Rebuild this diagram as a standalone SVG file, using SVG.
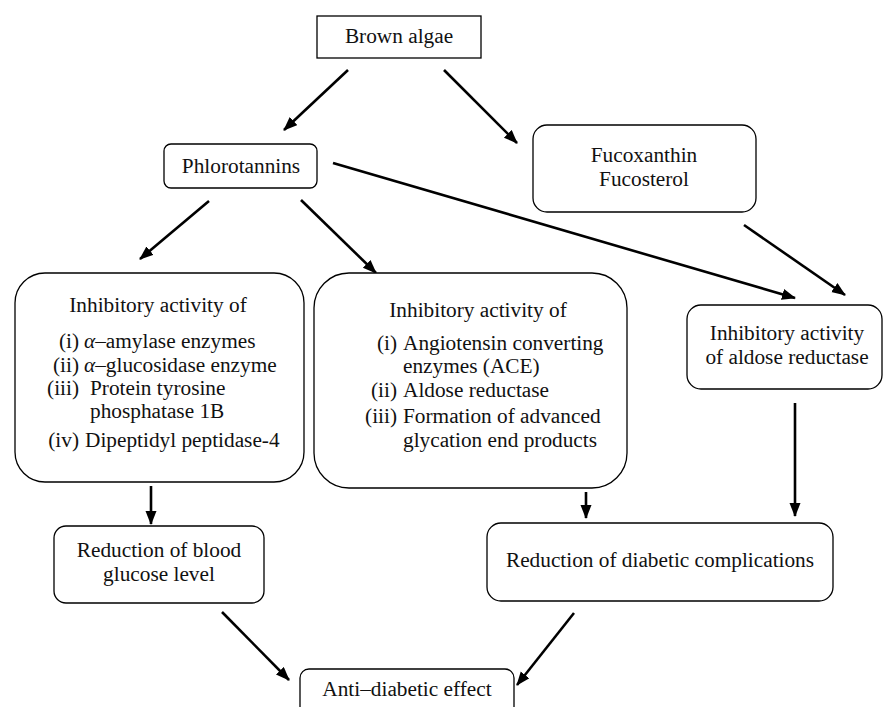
<svg xmlns="http://www.w3.org/2000/svg" width="884" height="707" viewBox="0 0 884 707">
<style>
.box{fill:#fff;stroke:#000;stroke-width:1.3}
.t{font-family:"Liberation Serif","Times New Roman",serif;font-size:21.3px;fill:#111}
.c{text-anchor:middle}
.e{text-anchor:end}
.a{stroke:#000;stroke-width:2.6;fill:none;marker-end:url(#ah)}
</style>
<defs>
<marker id="ah" markerUnits="userSpaceOnUse" markerWidth="14" markerHeight="12" refX="13" refY="5.5" orient="auto">
<path d="M0,0 L14,5.5 L0,11 z" fill="#000"/>
</marker>
</defs>
<rect width="884" height="707" fill="#fff"/>
<g id="connectors">
<line class="a" x1="348" y1="70" x2="284" y2="130"/>
<line class="a" x1="444" y1="70" x2="517" y2="143"/>
<line class="a" x1="333" y1="163" x2="795" y2="298"/>
<line class="a" x1="744" y1="225" x2="845" y2="295"/>
<line class="a" x1="209" y1="201" x2="140" y2="259"/>
<line class="a" x1="301" y1="200" x2="376" y2="273"/>
<line class="a" x1="151" y1="486" x2="151" y2="524"/>
<line class="a" x1="586" y1="492" x2="586" y2="518"/>
<line class="a" x1="795" y1="403" x2="795" y2="516"/>
<line class="a" x1="222" y1="612" x2="289" y2="680"/>
<line class="a" x1="574" y1="613" x2="517" y2="685"/>
</g>
<g id="brown-algae">
<rect class="box" x="317" y="16" width="164" height="42"/>
<text class="t c" x="399" y="43">Brown algae</text>
</g>
<g id="phlorotannins">
<rect class="box" x="164" y="144" width="153" height="44" rx="7"/>
<text class="t c" x="241" y="173">Phlorotannins</text>
</g>
<g id="fucoxanthin">
<rect class="box" x="533" y="125" width="223" height="87" rx="14"/>
<text class="t c" x="644" y="162">Fucoxanthin</text>
<text class="t c" x="644" y="186">Fucosterol</text>
</g>
<g id="inhib-left">
<rect class="box" x="15" y="273" width="289" height="209" rx="30"/>
<text class="t c" x="158" y="312">Inhibitory activity of</text>
<text class="t e" x="79" y="348">(i)</text>
<text class="t" x="84" y="348"><tspan font-style="italic">α</tspan>–amylase enzymes</text>
<text class="t e" x="79" y="372">(ii)</text>
<text class="t" x="84" y="372"><tspan font-style="italic">α</tspan>–glucosidase enzyme</text>
<text class="t e" x="79" y="395">(iii)</text>
<text class="t" x="90" y="395">Protein tyrosine</text>
<text class="t" x="90" y="418">phosphatase 1B</text>
<text class="t e" x="79" y="447">(iv)</text>
<text class="t" x="85" y="447">Dipeptidyl peptidase-4</text>
</g>
<g id="inhib-middle">
<rect class="box" x="314" y="273" width="313" height="215" rx="35"/>
<text class="t c" x="478" y="317">Inhibitory activity of</text>
<text class="t e" x="397" y="350">(i)</text>
<text class="t" x="403" y="350">Angiotensin converting</text>
<text class="t" x="403" y="373">enzymes (ACE)</text>
<text class="t e" x="397" y="397">(ii)</text>
<text class="t" x="403" y="397">Aldose reductase</text>
<text class="t e" x="397" y="423">(iii)</text>
<text class="t" x="403" y="423">Formation of advanced</text>
<text class="t" x="403" y="447">glycation end products</text>
</g>
<g id="inhib-aldose">
<rect class="box" x="687" y="305" width="195" height="84" rx="14"/>
<text class="t c" x="787" y="340">Inhibitory activity</text>
<text class="t c" x="787" y="364">of aldose reductase</text>
</g>
<g id="blood-glucose">
<rect class="box" x="54" y="526" width="210" height="77" rx="12"/>
<text class="t c" x="159" y="557">Reduction of blood</text>
<text class="t c" x="159" y="581">glucose level</text>
</g>
<g id="diabetic-complications">
<rect class="box" x="487" y="523" width="346" height="78" rx="14"/>
<text class="t c" x="660" y="567">Reduction of diabetic complications</text>
</g>
<g id="anti-diabetic">
<rect class="box" x="300" y="669" width="214" height="60" rx="9"/>
<text class="t c" x="407" y="696">Anti–diabetic effect</text>
</g>
</svg>
